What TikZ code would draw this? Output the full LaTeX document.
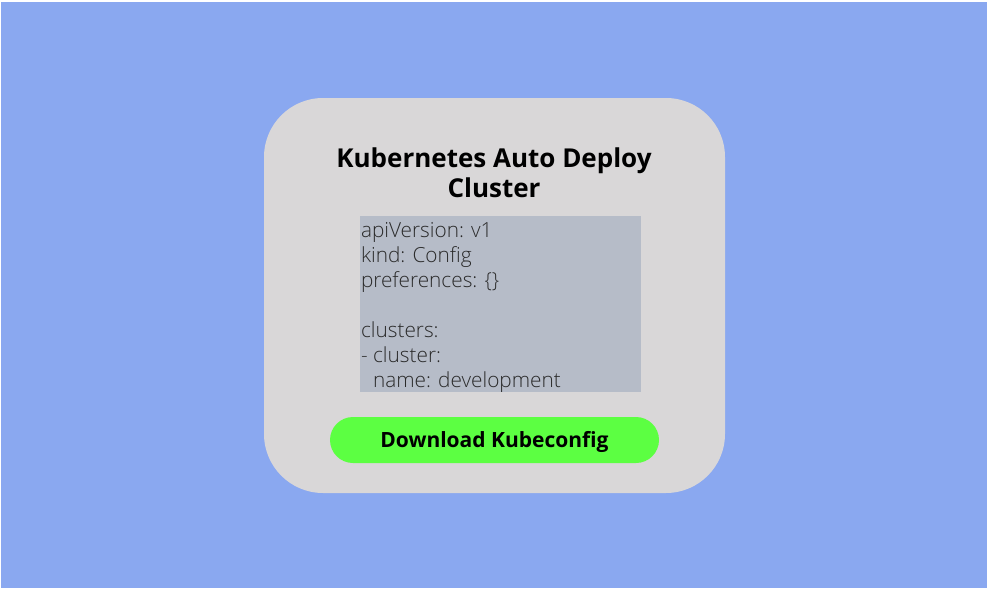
\documentclass[tikz,border=0pt]{standalone}
\usepackage{fontspec}
\setmainfont{Open Sans}
\newfontfamily\codefont{Open Sans Light}
\usetikzlibrary{positioning}

\definecolor{bgblue}{HTML}{8AA8F0}
\definecolor{cardgray}{HTML}{D9D7D8}
\definecolor{codegray}{HTML}{B6BCC8}
\definecolor{btngreen}{HTML}{5CFF42}
\definecolor{codetext}{HTML}{2A2A2A}

\tikzset{
  card/.style={fill=cardgray, rounded corners=59pt, minimum width=461pt, minimum height=395pt, inner sep=0},
  codebox/.style={fill=codegray, minimum width=281pt, minimum height=176pt, inner sep=0},
  codelines/.style={text=codetext, align=left, inner sep=0, font=\codefont\fontsize{20.8}{25}\selectfont},
  button/.style={fill=btngreen, rounded corners=23pt, minimum width=329pt, minimum height=46pt, text height=15pt, text depth=0pt, font=\bfseries\fontsize{21}{24}\selectfont}
}

\begin{document}
\begin{tikzpicture}[x=1pt, y=-1pt]

\useasboundingbox (0,0) rectangle (989,589);
\fill[bgblue] (1,2) rectangle (987,588);

\node[card] (card) at (494.5,295.5) {};

\node[font=\bfseries\fontsize{26}{30}\selectfont, align=center] (title) at (494,172.5) {Kubernetes Auto Deploy\\Cluster};

\node[codebox] (code) at (500.5,304) {};

\node[codelines, anchor=north west] (codetxt) at ([xshift=1pt, yshift=-6pt]code.north west) {apiVersion: v1\\kind: Config\\preferences: \{\}\\[25pt]clusters:\\- cluster:\\\hspace*{12pt}name: development};

\node[button] (download) at (494.5,440) {Download Kubeconfig};

\end{tikzpicture}
\end{document}
